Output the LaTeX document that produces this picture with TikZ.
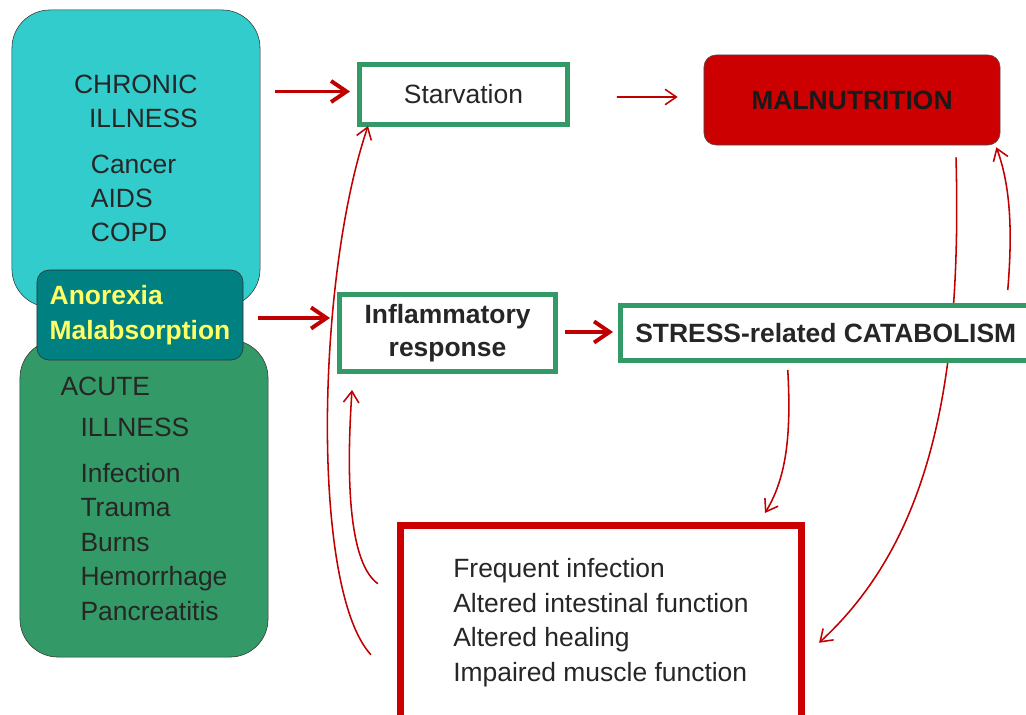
\documentclass[tikz,border=0pt]{standalone}
\usepackage{fontspec}
\setmainfont{Liberation Sans}
\usepackage{xcolor}
\definecolor{chronic}{HTML}{33CCCC}
\definecolor{acute}{HTML}{339966}
\definecolor{sympt}{HTML}{008080}
\definecolor{boxgreen}{HTML}{339966}
\definecolor{alarm}{HTML}{CC0000}
\definecolor{arrowred}{HTML}{C00000}
\definecolor{yellowtext}{HTML}{FFFF66}
\usepackage{tikz}
\usetikzlibrary{arrows.meta,calc,backgrounds}

\begin{document}
\begin{tikzpicture}[x=0.025cm, y=-0.025cm,
    font=\fontsize{18.8}{24.5}\selectfont,
    illness/.style={draw=black!80, rounded corners=0.95cm, minimum width=6.2cm, align=left, text=black!85},
    cause/.style={draw=black!80, fill=sympt, rounded corners=0.3cm, minimum width=5.15cm, minimum height=2.25cm, align=left, text=yellowtext, font=\fontsize{18.8}{24.5}\selectfont\bfseries},
    greenbox/.style={draw=boxgreen, line width=3.5pt, fill=white, align=center, text=black!85},
    redbox/.style={draw=alarm, line width=5pt, fill=white, align=left, text=black!85},
    thick line/.style={draw=arrowred, line width=2.8pt, -{Straight Barb[length=11pt,width=15pt]}},
    thin line/.style={draw=arrowred, line width=1.1pt, -{Straight Barb[length=8pt,width=11pt]}}]

    \useasboundingbox (0,0) rectangle (1026,715);

    % Illness boxes
    \node [illness, fill=chronic, minimum height=7.425cm] (chronic) at (136,158.5)
        {CHRONIC\\\hspace*{0.375cm}ILLNESS\\[7.8pt]\hspace*{0.42cm}Cancer\\\hspace*{0.42cm}AIDS\\\hspace*{0.42cm}COPD};
    \node [illness, fill=acute, minimum height=7.925cm] (acute) at (144,498.5)
        {ACUTE\\[5pt]\hspace*{0.5cm}ILLNESS\\[8pt]\hspace*{0.5cm}Infection\\\hspace*{0.5cm}Trauma\\\hspace*{0.5cm}Burns\\\hspace*{0.5cm}Hemorrhage\\\hspace*{0.5cm}Pancreatitis};
    \node [cause] (sympt) at (140,315) {Anorexia\\Malabsorption};

    % Responses
    \node [greenbox, minimum width=5.2cm, minimum height=1.5cm] (starv) at (463.5,94.5) {Starvation};
    \node [greenbox, minimum width=5.4cm, minimum height=1.925cm, font=\fontsize{18.8}{23.5}\selectfont\bfseries] (inflam) at (447.5,333) {Inflammatory\\response};
    \node [greenbox, minimum width=10.26cm, minimum height=1.375cm, font=\fontsize{18.8}{24.5}\selectfont\bfseries] (stress) at (825.75,333) {STRESS-related CATABOLISM};

    % Outcome
    \node [draw=black!70, fill=alarm, rounded corners=0.3cm, minimum width=7.4cm, minimum height=2.25cm, font=\fontsize{18.8}{24.5}\selectfont\bfseries, text=black!90] (malnut) at (852,100) {MALNUTRITION};
    \node [redbox, minimum width=10.025cm, minimum height=4.8625cm] (freq) at (601,622.75)
        {Frequent infection\\Altered intestinal function\\Altered healing\\Impaired muscle function};

    % Straight arrows
    \path [thick line] ($(chronic.east |- starv.west)+(15,-3)$) -- ($(starv.west)+(-7,-3)$);
    \path [thin line] ($(starv.east)+(47,2.5)$) -- ($(malnut.west)+(-26,-3)$);
    \path [thick line] ($(sympt.east)+(15,3)$) -- ($(sympt.east -| inflam.west)+(-7,3)$);
    \path [thick line] ($(inflam.east)+(7,-1)$) -- ($(stress.west)+(-5,-1)$);

    % Curved arrows
    \path [thin line] ($(stress.south)+(-38,7)$) .. controls +(4,70) and +(20,-33) .. ($(freq.north)+(164,-9)$);
    \begin{scope}[on background layer]
        \path [thin line] ($(malnut.south)+(104,12)$) .. controls +(6,223) and +(112,-103) .. ($(freq.east)+(14,20)$);
    \end{scope}
    \path [thin line] ($(stress.north)+(182,-13)$) .. controls +(5,-60) and +(14,38) .. ($(malnut.south east)+(-4,2)$);
    \path [thin line] ($(freq.west)+(-19,-39)$) .. controls +(-34,-24) and +(-4,60) .. ($(inflam.south west)+(15,16)$);
    \path [thin line] ($(freq.west)+(-26,32)$) .. controls +(-60,-65) and +(-52,154) .. ($(starv.south west)+(11,-1)$);
\end{tikzpicture}
\end{document}
